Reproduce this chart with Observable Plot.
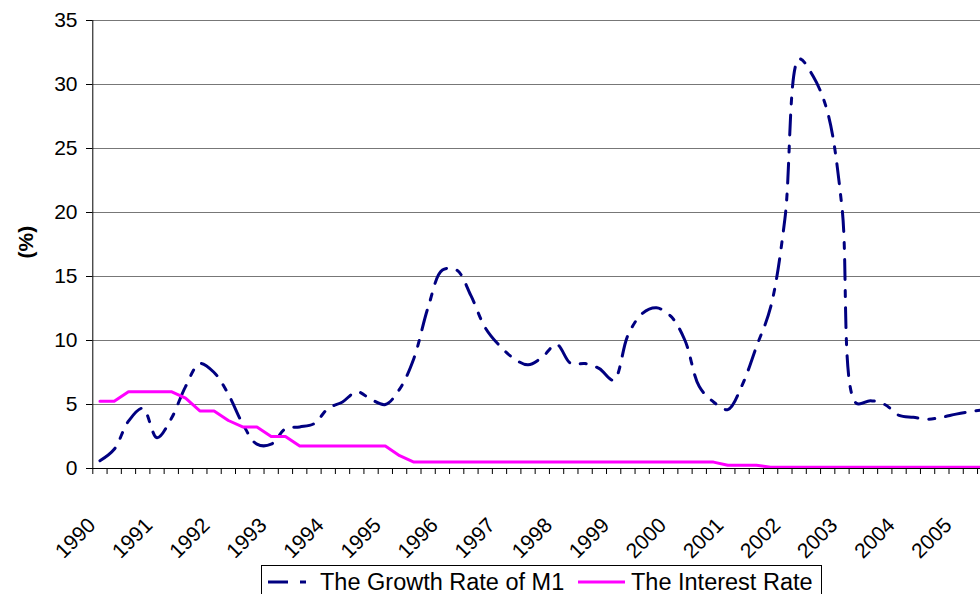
<!DOCTYPE html>
<html>
<head>
<meta charset="utf-8">
<script src="https://cdn.jsdelivr.net/npm/d3@7"></script>
<script src="https://cdn.jsdelivr.net/npm/@observablehq/plot@0.6"></script>
<style>
html, body { margin: 0; padding: 0; overflow: hidden; background: #fff; width: 980px; height: 594px; }
#wrap { position: relative; width: 980px; height: 594px; font-family: "Liberation Sans", Arial, sans-serif; }
#legend { position: absolute; left: 261px; top: 565px; overflow: visible; }
</style>
</head>
<body>
<div id="wrap"></div>
<script>
// Quarterly categories 1990Q1 .. 2005Q4 (index 0..63)
const years = d3.range(1990, 2006);
const quarterIndex = d3.range(0, 64);

// The Growth Rate of M1 (%)
const m1Growth = [
  0.6, 1.5, 3.7, 4.7, 2.4, 3.9, 6.4, 8.2,
  7.5, 5.8, 3.5, 1.9, 1.9, 3.1, 3.25, 3.5,
  4.7, 5.2, 6.0, 5.4, 5.0, 6.2, 8.6, 12.6,
  15.5, 15.5, 13.5, 11.0, 9.6, 8.6, 8.1, 8.7,
  9.7, 8.2, 8.2, 7.8, 6.9, 10.4, 12.1, 12.55,
  11.9, 10.0, 6.4, 5.2, 4.6, 6.5, 9.5, 12.6,
  19.5, 32.0, 30.6, 27.8, 20.4, 5.1, 5.3, 5.0,
  4.15, 4.0, 3.85, 4.0, 4.25, 4.45, 4.6, 4.7
];

// The Interest Rate (%)
const interestRate = [
  5.25, 5.25, 6.0, 6.0, 6.0, 6.0, 5.5, 4.5,
  4.5, 3.75, 3.25, 3.25, 2.5, 2.5, 1.75, 1.75,
  1.75, 1.75, 1.75, 1.75, 1.75, 1.0, 0.5, 0.5,
  0.5, 0.5, 0.5, 0.5, 0.5, 0.5, 0.5, 0.5,
  0.5, 0.5, 0.5, 0.5, 0.5, 0.5, 0.5, 0.5,
  0.5, 0.5, 0.5, 0.5, 0.25, 0.25, 0.25, 0.1,
  0.1, 0.1, 0.1, 0.1, 0.1, 0.1, 0.1, 0.1,
  0.1, 0.1, 0.1, 0.1, 0.1, 0.1, 0.1, 0.1
];

const yTicks = d3.range(0, 36, 5);
const seriesNames = ["The Growth Rate of M1", "The Interest Rate"];
const seriesColors = ["#000080", "#FF00FF"];

const data = quarterIndex.map(i => ({ q: i + 0.5, m1: m1Growth[i], rate: interestRate[i] }));

const step = 14.27;
const x0 = 92.3;

const chart = Plot.plot({
  width: 980,
  height: 565,
  marginLeft: 92,
  marginTop: 20,
  marginBottom: 97,
  marginRight: 0,
  style: { fontFamily: "'Liberation Sans', Arial, sans-serif", fontSize: "21px", color: "#000", background: "#fff", overflow: "hidden" },
  x: { domain: [0, 64], range: [x0, x0 + 64 * step] },
  y: { domain: [0, 35] },
  marks: [
    Plot.gridY(yTicks.filter(d => d > 0), { stroke: "#777777", strokeOpacity: 1, strokeWidth: 1 }),
    Plot.axisY({ ticks: yTicks, tickSize: 6, tickPadding: 9, label: null, fontSize: 21 }),
    Plot.axisX({ ticks: d3.range(0, 65), tickSize: 6, tickFormat: () => "", label: null }),
    Plot.text(years, {
      x: d => (d - 1990) * 4,
      frameAnchor: "bottom",
      text: d => String(d),
      dx: 4, dy: 58,
      rotate: -45,
      textAnchor: "end",
      lineAnchor: "bottom",
      fontSize: 21
    }),
    Plot.text(["(%)"], { frameAnchor: "left", dx: -66, dy: 14, rotate: -90, fontWeight: "bold", fontSize: 21 }),
    Plot.ruleY([0], { stroke: "#000", strokeWidth: 1 }),
    Plot.ruleX([0], { stroke: "#000", strokeWidth: 1 }),
    Plot.line(data, { x: "q", y: "m1", stroke: seriesColors[0], strokeWidth: 3, strokeDasharray: "20,11,6,11", curve: "catmull-rom", clip: true }),
    Plot.line(data, { x: "q", y: "rate", stroke: seriesColors[1], strokeWidth: 3, clip: true })
  ]
});

const wrap = document.getElementById("wrap");
wrap.appendChild(chart);

// Legend (below the plot SVG)
const ns = "http://www.w3.org/2000/svg";
const leg = document.createElementNS(ns, "svg");
leg.setAttribute("id", "legend");
leg.setAttribute("width", "562");
leg.setAttribute("height", "42");
leg.style.fontFamily = "'Liberation Sans', Arial, sans-serif";
leg.innerHTML = `
  <rect x="0.5" y="0.5" width="560" height="40" fill="#fff" stroke="#000" stroke-width="1"></rect>
  <line x1="7" x2="47" y1="17" y2="17" stroke="${seriesColors[0]}" stroke-width="3" stroke-dasharray="20,12,6,12"></line>
  <text x="59" y="25" font-size="23.5" fill="#000">${seriesNames[0]}</text>
  <line x1="317" x2="364" y1="17" y2="17" stroke="${seriesColors[1]}" stroke-width="3"></line>
  <text x="370" y="25" font-size="23.5" fill="#000">${seriesNames[1]}</text>
`;
wrap.appendChild(leg);
</script>
</body>
</html>
